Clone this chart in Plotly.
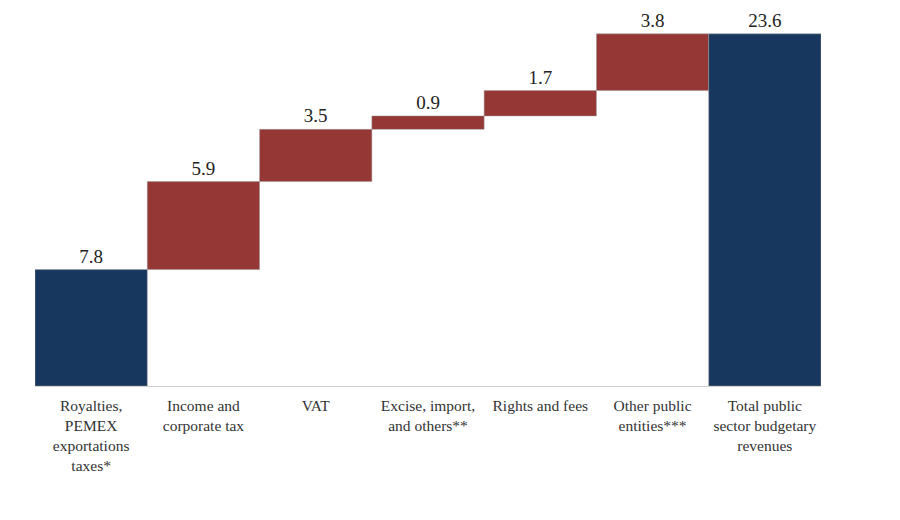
import plotly.graph_objects as go

categories = [
    "Royalties,<br>PEMEX<br>exportations<br>taxes*",
    "Income and<br>corporate tax",
    "VAT",
    "Excise, import,<br>and others**",
    "Rights and fees",
    "Other public<br>entities***",
    "Total public<br>sector budgetary<br>revenues",
]
values = [7.8, 5.9, 3.5, 0.9, 1.7, 3.8, 0]
labels = ["7.8", "5.9", "3.5", "0.9", "1.7", "3.8", "23.6"]
measures = ["absolute", "relative", "relative", "relative", "relative", "relative", "total"]

NAVY = "#17375E"
RED = "#953735"
SERIF = "Liberation Serif, Times New Roman, serif"

fig = go.Figure(go.Waterfall(
    x=categories,
    y=values,
    measure=measures,
    text=labels,
    textposition="outside",
    textfont=dict(family=SERIF, size=19, color="#222"),
    increasing=dict(marker=dict(color=RED, line=dict(color="#9a9a9a", width=0.5))),
    decreasing=dict(marker=dict(color=RED)),
    totals=dict(marker=dict(color=NAVY, line=dict(color="#9a9a9a", width=0.5))),
    connector=dict(visible=False),
    width=[1] * 7,
    cliponaxis=False,
))

fig.update_layout(
    width=900, height=520,
    paper_bgcolor="white", plot_bgcolor="white",
    margin=dict(l=27, r=87, t=2, b=142),
    showlegend=False,
    font=dict(family=SERIF, color="#333"),
)
fig.update_xaxes(
    range=[-0.5, 6.5],
    showline=True, linecolor="#d0d0d0", linewidth=1,
    showgrid=False, ticks="",
    tickfont=dict(family=SERIF, size=15.5, color="#333"),
    tickangle=0,
    ticklabelstandoff=5,
)
fig.update_yaxes(
    range=[0, 25.2], visible=False, showgrid=False, zeroline=False,
)

fig.write_html("out.html")
